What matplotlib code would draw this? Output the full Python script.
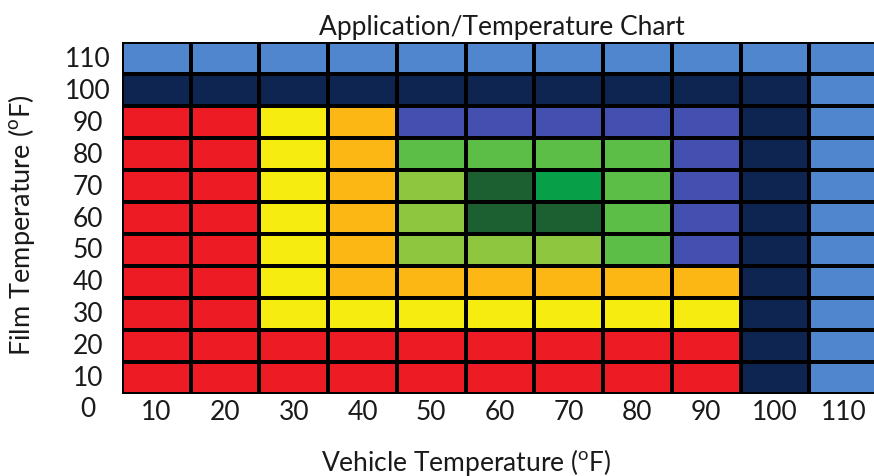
import matplotlib
matplotlib.use("Agg")
import matplotlib.pyplot as plt
from matplotlib.colors import ListedColormap
import numpy as np

plt.rcParams['font.family'] = ['Lato', 'DejaVu Sans']
plt.rcParams['mathtext.fontset'] = 'custom'
plt.rcParams['mathtext.rm'] = 'Lato'

vehicle_temps = [10, 20, 30, 40, 50, 60, 70, 80, 90, 100, 110]
film_temps = [10, 20, 30, 40, 50, 60, 70, 80, 90, 100, 110]

# zone codes, rows listed from film temp 110 (top) down to 10 (bottom)
zones_110 = ["L", "L", "L", "L", "L", "L", "L", "L", "L", "L", "L"]
zones_100 = ["N", "N", "N", "N", "N", "N", "N", "N", "N", "N", "L"]
zones_90 = ["R", "R", "Y", "O", "B", "B", "B", "B", "B", "N", "L"]
zones_80 = ["R", "R", "Y", "O", "G", "G", "G", "G", "B", "N", "L"]
zones_70 = ["R", "R", "Y", "O", "LG", "DG", "BG", "G", "B", "N", "L"]
zones_60 = ["R", "R", "Y", "O", "LG", "DG", "DG", "G", "B", "N", "L"]
zones_50 = ["R", "R", "Y", "O", "LG", "LG", "LG", "G", "B", "N", "L"]
zones_40 = ["R", "R", "Y", "O", "O", "O", "O", "O", "O", "N", "L"]
zones_30 = ["R", "R", "Y", "Y", "Y", "Y", "Y", "Y", "Y", "N", "L"]
zones_20 = ["R", "R", "R", "R", "R", "R", "R", "R", "R", "N", "L"]
zones_10 = ["R", "R", "R", "R", "R", "R", "R", "R", "R", "N", "L"]

zone_codes = ["R", "Y", "O", "B", "G", "LG", "DG", "BG", "N", "L"]
zone_colors = ["#ED1C24", "#F7EC0F", "#FDB714", "#4350B0", "#5CBE46",
               "#8FC640", "#1C5F30", "#07A049", "#0D2550", "#4F86CD"]

rows_top_down = [zones_110, zones_100, zones_90, zones_80, zones_70, zones_60,
                 zones_50, zones_40, zones_30, zones_20, zones_10]
rows_bottom_up = rows_top_down[::-1]
Z = np.array([[zone_codes.index(c) for c in row] for row in rows_bottom_up])

fig = plt.figure(figsize=(8.74, 4.77), dpi=100)
W, H = 874, 477
left, right, top, bottom = 122, 878, 43, 395
ax = fig.add_axes([left / W, 1 - bottom / H, (right - left) / W, (bottom - top) / H])

x_edges = np.arange(5, 120, 10)
y_edges = np.arange(5, 120, 10)
cmap = ListedColormap(zone_colors)
ax.pcolormesh(x_edges, y_edges, Z, cmap=cmap, vmin=-0.5, vmax=len(zone_codes) - 0.5,
              edgecolor="black", linewidth=1.6)
ax.set_xlim(5, 115)
ax.set_ylim(5, 115)
for s in ax.spines.values():
    s.set_visible(False)
ax.set_xticks([])
ax.set_yticks([])

fs = 19
txt_color = "#1a1a1a"
lab_x = 88 / W
for t in film_temps:
    ax.text(lab_x, ax.transData.transform((0, t))[1] / (H), str(t),
            transform=fig.transFigure, ha="center", va="center", fontsize=fs, color=txt_color)
for v in vehicle_temps:
    ax.text(v, -0.05, str(v), transform=ax.get_xaxis_transform(),
            ha="center", va="center", fontsize=fs, color=txt_color)
fig.text(lab_x, 1 - 410 / H, "0", ha="center", va="center", fontsize=fs, color=txt_color)

fig.text(502 / W, 1 - 27 / H, "Application/Temperature Chart", ha="center", va="center",
         fontsize=19, color=txt_color)
fig.text(466 / W, 1 - 463 / H, r"Vehicle Temperature ($^{\mathrm{o}}$F)", ha="center",
         va="center", fontsize=19, color=txt_color)
fig.text(22 / W, 1 - 225 / H, r"Film Temperature ($^{\mathrm{o}}$F)", ha="center",
         va="center", rotation=90, fontsize=19.5, color=txt_color)

fig.savefig("out.png", dpi=100)
